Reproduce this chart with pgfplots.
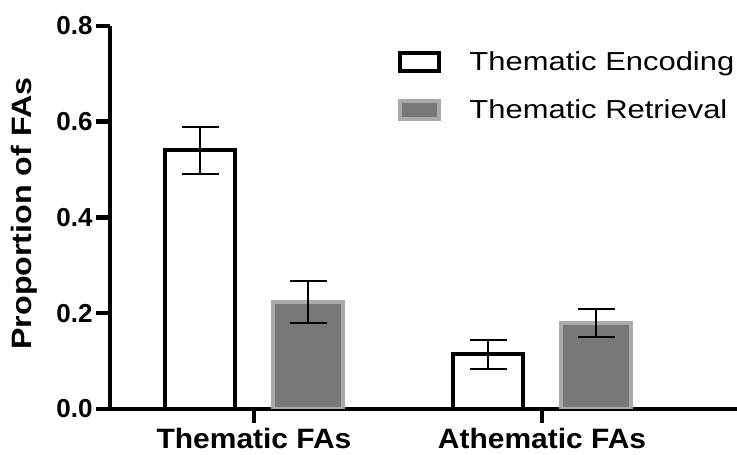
\documentclass[border=0pt]{standalone}
\usepackage{fontspec}
\setmainfont{Liberation Sans}
\newfontfamily\legfont{Liberation Sans}[FakeStretch=1.19]
\newfontfamily\labfont{Liberation Sans}[FakeStretch=1.15]
\newfontfamily\xfont{Liberation Sans}[FakeStretch=1.07]
\usepackage{pgfplots}
\pgfplotsset{compat=1.18}
\definecolor{retfill}{HTML}{787878}
\definecolor{retedge}{HTML}{AAAAAA}
\begin{document}
\begin{tikzpicture}
\begin{axis}[
  name=ax,
  scale only axis, width=627pt, height=383pt,
  xmin=-0.5, xmax=1.677, ymin=0, ymax=0.8,
  axis lines=left, axis line style={-, line width=4.5pt},
  xtick={0,1}, xticklabels={Thematic FAs, Athematic FAs},
  ytick={0,0.2,0.4,0.6,0.8},
  yticklabels={0.0,0.2,0.4,0.6,0.8},
  tick align=outside, major tick length=14pt,
  tick style={line width=4.5pt, black},
  yticklabel style={font=\fontsize{26}{30}\selectfont\bfseries, xshift=0pt},
  xticklabel style={font=\fontsize{28}{32}\xfont\bfseries, yshift=-2pt},
  ylabel={Proportion of FAs},
  ylabel style={font=\fontsize{28}{32}\labfont\bfseries, at={(axis description cs:-0.137,0.51)}, anchor=center},
  ybar, bar width=0.243, bar shift=0pt,
  legend style={draw=none, fill=none, at={(0.455,0.943)}, anchor=north west,
    font=\fontsize{26}{30}\legfont, row sep=23pt, column sep=26pt, cells={anchor=west}},
  error bars/error bar style={line width=2pt, black},
  error bars/error mark options={rotate=90, line width=2pt, black, mark size=18.5pt},
]
\addplot[draw=black, line width=4pt, fill=white,
  legend image code/.code={\draw[line width=4pt, draw=black, fill=white] (0pt,-9pt) rectangle (39pt,9pt);},
  error bars/.cd, y dir=both, y explicit]
  coordinates {(-0.1875,0.540) +- (0,0.049) (0.8125,0.114) +- (0,0.031)};
\addlegendentry{Thematic Encoding}
\addplot[draw=retedge, line width=4pt, fill=retfill,
  legend image code/.code={\draw[line width=4pt, draw=retedge, fill=retfill] (0pt,-9pt) rectangle (39pt,9pt);},
  error bars/.cd, y dir=both, y explicit]
  coordinates {(0.1875,0.223) +- (0,0.044) (1.1875,0.179) +- (0,0.029)};
\addlegendentry{Thematic Retrieval}
\end{axis}
\pgfresetboundingbox
\path[use as bounding box] ([xshift=-110pt,yshift=-46pt]ax.south west) rectangle ([yshift=26pt]ax.north east);
\end{tikzpicture}
\end{document}
